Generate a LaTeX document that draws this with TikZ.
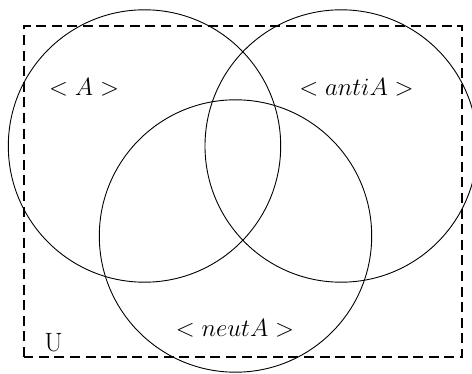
\documentclass[tikz,border=0pt]{standalone}
\usepackage{tikz}
\begin{document}
\begin{tikzpicture}[x=1pt,y=1pt,
  venn/.style={line width=0.9pt},
  universe/.style={line width=1.8pt, dash pattern=on 10pt off 5.6pt},
  lbl/.style={anchor=base, inner sep=0pt, font=\fontsize{26.5}{32}\selectfont}]
\useasboundingbox (0,0) rectangle (472,373);
\draw[universe] (24,16) rectangle (462,347);
\draw[venn] (144.5,227) circle[radius=136.2];
\draw[venn] (341.2,227) circle[radius=136.2];
\draw[venn] (235.5,137) circle[radius=136.2];
\node[lbl] (la) at (84,277.5) {$<A>$};
\node[lbl] (lanti) at (356.5,277.5) {$<antiA>$};
\node[lbl] (lneut) at (235,36.5) {$<neutA>$};
\node[lbl] (lu) at (53.5,21.5) {U};
\end{tikzpicture}
\end{document}
